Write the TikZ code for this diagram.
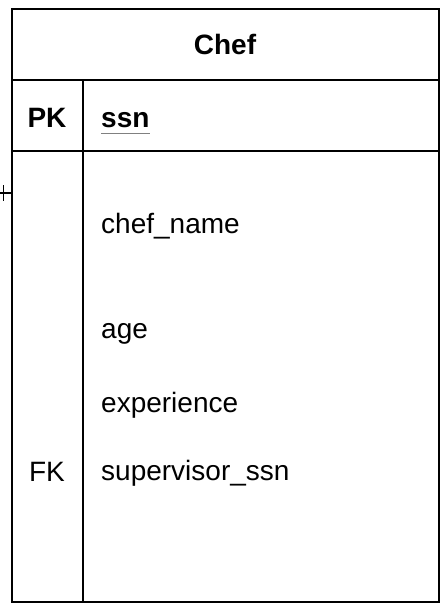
\documentclass[tikz,border=0pt]{standalone}
\usepackage{fontspec}
\setmainfont{Liberation Sans}
\usepackage{tikz}
\usetikzlibrary{positioning}

\tikzset{
  field/.style={anchor=base west, inner sep=0pt, font=\fontsize{28}{32}\selectfont},
  keytag/.style={anchor=base, inner sep=0pt, font=\fontsize{28}{32}\selectfont},
  tableline/.style={line width=2pt, draw=black}
}

\begin{document}
\begin{tikzpicture}[x=1pt, y=-1pt]
\useasboundingbox (0,0) rectangle (442,616);
% table frame
\draw[tableline] (11.5,9) rectangle (438.5,602);
\draw[tableline] (11.5,80) -- (438.5,80);
\draw[tableline] (11.5,151) -- (438.5,151);
\draw[tableline] (83,80) -- (83,602);
% header
\node[keytag, font=\fontsize{28}{32}\selectfont\bfseries] (title) at (225,54) {Chef};
% key column
\node[keytag, font=\fontsize{28}{32}\selectfont\bfseries] (pk) at (47,127) {PK};
\node[keytag] (fk) at (47,481) {FK};
% attributes
\node[field, font=\fontsize{28}{32}\selectfont\bfseries] (ssn) at (101,127) {ssn};
\draw[gray, line width=1pt] ([yshift=-6pt]ssn.base west) -- ([yshift=-6pt]ssn.base east);
\node[field] (name) at (101,233) {chef\_name};
\node[field] (age) at (101,338) {age};
\node[field] (exp) at (101,412) {experience};
\node[field] (super) at (101,480) {supervisor\_ssn};
% relation stub
\coordinate (edge) at (11.5,193);
\coordinate (loose) at (0,193);
\draw[line width=1.2pt] (edge) -- (loose);
\draw[line width=1pt] (3.5,185) -- (3.5,201);
\end{tikzpicture}
\end{document}
